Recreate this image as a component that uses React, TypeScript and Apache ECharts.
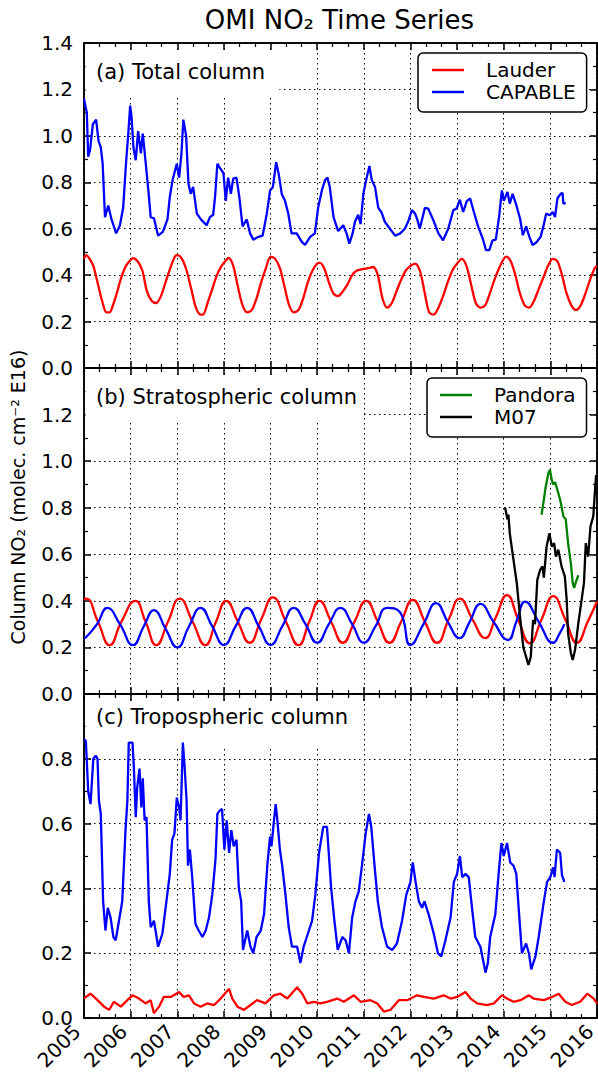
import React, { useEffect, useRef } from "react";
import * as echarts from "echarts";

type Pt = [number, number];

const X_MIN = 2005;
const X_MAX = 2016;
const YEAR_TICKS = ["2005", "2006", "2007", "2008", "2009", "2010", "2011", "2012", "2013", "2014", "2015", "2016"];
const PANEL_LABELS = ["(a) Total column", "(b) Stratospheric column", "(c) Tropospheric column"];
const Y_MAX = [1.4, 1.4, 1.0];
const TITLE = "OMI NO\u2082 Time Series";
const Y_TITLE = "Column NO\u2082 (molec. cm\u207B\u00B2 E16)";

// (a) Total column
const LAUDER_TOTAL: Pt[] = [
  [2005.0, 0.47], [2005.05, 0.486], [2005.12, 0.47], [2005.2, 0.44], [2005.3, 0.36], [2005.4, 0.28], [2005.48, 0.24], [2005.55, 0.24],
  [2005.62, 0.27], [2005.7, 0.32], [2005.8, 0.39], [2005.9, 0.44], [2006.0, 0.465], [2006.05, 0.473], [2006.15, 0.46], [2006.25, 0.42],
  [2006.35, 0.33], [2006.45, 0.29], [2006.55, 0.28], [2006.65, 0.31], [2006.75, 0.37], [2006.85, 0.43], [2006.95, 0.48], [2007.0, 0.486],
  [2007.1, 0.47], [2007.2, 0.42], [2007.3, 0.34], [2007.4, 0.26], [2007.5, 0.23], [2007.55, 0.23], [2007.65, 0.28], [2007.75, 0.34],
  [2007.85, 0.40], [2007.95, 0.44], [2008.05, 0.465], [2008.1, 0.474], [2008.2, 0.44], [2008.3, 0.35], [2008.4, 0.27], [2008.5, 0.24],
  [2008.6, 0.25], [2008.7, 0.30], [2008.8, 0.37], [2008.9, 0.43], [2009.0, 0.48], [2009.1, 0.47], [2009.2, 0.43], [2009.3, 0.35],
  [2009.4, 0.27], [2009.5, 0.24], [2009.6, 0.25], [2009.7, 0.30], [2009.8, 0.37], [2009.9, 0.42], [2010.0, 0.45], [2010.06, 0.453],
  [2010.15, 0.43], [2010.25, 0.37], [2010.35, 0.32], [2010.45, 0.31], [2010.55, 0.33], [2010.65, 0.36], [2010.75, 0.40], [2010.85, 0.42],
  [2010.95, 0.425], [2011.1, 0.43], [2011.2, 0.435], [2011.3, 0.40], [2011.4, 0.30], [2011.5, 0.26], [2011.6, 0.28], [2011.7, 0.33],
  [2011.8, 0.38], [2011.9, 0.42], [2012.0, 0.44], [2012.1, 0.45], [2012.2, 0.42], [2012.3, 0.33], [2012.4, 0.24], [2012.5, 0.23],
  [2012.6, 0.26], [2012.7, 0.31], [2012.8, 0.37], [2012.9, 0.42], [2013.0, 0.45], [2013.1, 0.47], [2013.2, 0.44], [2013.3, 0.36],
  [2013.4, 0.28], [2013.5, 0.26], [2013.6, 0.27], [2013.7, 0.32], [2013.8, 0.38], [2013.9, 0.43], [2014.0, 0.47], [2014.05, 0.48],
  [2014.15, 0.46], [2014.25, 0.40], [2014.35, 0.32], [2014.45, 0.27], [2014.55, 0.26], [2014.65, 0.29], [2014.75, 0.34], [2014.85, 0.39],
  [2014.95, 0.44], [2015.05, 0.47], [2015.15, 0.46], [2015.25, 0.40], [2015.35, 0.32], [2015.45, 0.27], [2015.55, 0.25], [2015.65, 0.27],
  [2015.75, 0.32], [2015.85, 0.38], [2015.95, 0.43], [2016.0, 0.44],
];

const CAPABLE_TOTAL: Pt[] = [
  [2005.0, 1.16], [2005.02, 1.14], [2005.06, 1.10], [2005.09, 0.91], [2005.13, 0.94], [2005.19, 1.05], [2005.26, 1.07], [2005.31, 0.98],
  [2005.36, 0.95], [2005.4, 0.88], [2005.45, 0.65], [2005.52, 0.70], [2005.59, 0.64], [2005.69, 0.58], [2005.77, 0.615], [2005.84, 0.69],
  [2005.9, 0.88], [2005.95, 1.01], [2005.99, 1.13], [2006.02, 1.08], [2006.06, 0.95], [2006.11, 0.895], [2006.16, 1.02], [2006.22, 0.925],
  [2006.26, 1.01], [2006.31, 0.91], [2006.38, 0.765], [2006.43, 0.65], [2006.5, 0.645], [2006.59, 0.57], [2006.69, 0.586], [2006.79, 0.64],
  [2006.84, 0.737], [2006.9, 0.81], [2006.95, 0.85], [2006.99, 0.88], [2007.04, 0.82], [2007.09, 0.925], [2007.13, 1.07], [2007.19, 1.0],
  [2007.24, 0.794], [2007.29, 0.75], [2007.34, 0.78], [2007.42, 0.665], [2007.52, 0.637], [2007.63, 0.615], [2007.7, 0.65], [2007.77, 0.66],
  [2007.81, 0.737], [2007.86, 0.88], [2007.92, 0.86], [2007.99, 0.84], [2008.04, 0.72], [2008.09, 0.82], [2008.15, 0.75], [2008.2, 0.816],
  [2008.27, 0.82], [2008.33, 0.737], [2008.4, 0.61], [2008.49, 0.64], [2008.56, 0.58], [2008.63, 0.553], [2008.74, 0.565], [2008.83, 0.57],
  [2008.92, 0.665], [2008.99, 0.765], [2009.05, 0.78], [2009.12, 0.887], [2009.18, 0.83], [2009.24, 0.75], [2009.31, 0.72], [2009.38, 0.665],
  [2009.45, 0.58], [2009.56, 0.58], [2009.67, 0.543], [2009.74, 0.53], [2009.85, 0.565], [2009.95, 0.58], [2010.02, 0.69], [2010.1, 0.765],
  [2010.17, 0.81], [2010.22, 0.82], [2010.27, 0.78], [2010.35, 0.65], [2010.45, 0.59], [2010.56, 0.615], [2010.63, 0.58], [2010.69, 0.536],
  [2010.76, 0.58], [2010.81, 0.63], [2010.88, 0.66], [2010.93, 0.62], [2010.99, 0.75], [2011.05, 0.81], [2011.12, 0.87], [2011.17, 0.81],
  [2011.24, 0.78], [2011.31, 0.69], [2011.38, 0.67], [2011.45, 0.63], [2011.56, 0.60], [2011.67, 0.57], [2011.78, 0.58], [2011.88, 0.60],
  [2011.95, 0.63], [2012.03, 0.68], [2012.1, 0.665], [2012.15, 0.637], [2012.2, 0.60], [2012.31, 0.69], [2012.38, 0.687], [2012.49, 0.637],
  [2012.6, 0.58], [2012.7, 0.55], [2012.81, 0.60], [2012.92, 0.68], [2012.99, 0.687], [2013.06, 0.725], [2013.13, 0.672], [2013.21, 0.72],
  [2013.28, 0.73], [2013.36, 0.672], [2013.45, 0.61], [2013.55, 0.558], [2013.62, 0.508], [2013.69, 0.508], [2013.76, 0.55], [2013.83, 0.553],
  [2013.9, 0.65], [2013.96, 0.765], [2014.0, 0.72], [2014.08, 0.758], [2014.13, 0.708], [2014.19, 0.75], [2014.26, 0.708], [2014.35, 0.644],
  [2014.41, 0.572], [2014.48, 0.61], [2014.55, 0.565], [2014.62, 0.53], [2014.71, 0.543], [2014.79, 0.565], [2014.85, 0.61], [2014.91, 0.665],
  [2014.99, 0.658], [2015.05, 0.672], [2015.1, 0.65], [2015.15, 0.73], [2015.22, 0.75], [2015.26, 0.754], [2015.28, 0.708], [2015.33, 0.711],
];

// (b) Stratospheric column
const LAUDER_STRAT: Pt[] = [
  [2005.0, 0.405], [2005.05, 0.41], [2005.3, 0.31], [2005.55, 0.21], [2005.8, 0.31], [2006.1, 0.40], [2006.32, 0.31], [2006.55, 0.21],
  [2006.8, 0.31], [2007.05, 0.41], [2007.33, 0.31], [2007.6, 0.21], [2007.83, 0.31], [2008.05, 0.40], [2008.3, 0.31], [2008.55, 0.22],
  [2008.8, 0.32], [2009.05, 0.415], [2009.33, 0.31], [2009.6, 0.21], [2009.83, 0.31], [2010.05, 0.40], [2010.3, 0.31], [2010.55, 0.22],
  [2010.8, 0.31], [2011.05, 0.40], [2011.3, 0.31], [2011.55, 0.22], [2011.8, 0.31], [2012.05, 0.404], [2012.31, 0.31], [2012.57, 0.22],
  [2012.82, 0.32], [2013.06, 0.41], [2013.33, 0.32], [2013.6, 0.24], [2013.83, 0.33], [2014.07, 0.425], [2014.31, 0.32], [2014.56, 0.218],
  [2014.81, 0.32], [2015.06, 0.42], [2015.32, 0.32], [2015.57, 0.22], [2015.8, 0.31], [2016.0, 0.397],
];

const CAPABLE_STRAT: Pt[] = [
  [2005.0, 0.24], [2005.05, 0.245], [2005.28, 0.30], [2005.5, 0.37], [2005.77, 0.30], [2006.05, 0.21], [2006.28, 0.29], [2006.5, 0.36],
  [2006.75, 0.28], [2007.0, 0.20], [2007.25, 0.29], [2007.5, 0.37], [2007.75, 0.29], [2008.0, 0.21], [2008.25, 0.29], [2008.5, 0.37],
  [2008.75, 0.29], [2009.0, 0.21], [2009.25, 0.29], [2009.5, 0.37], [2009.75, 0.30], [2010.0, 0.22], [2010.25, 0.30], [2010.5, 0.37],
  [2010.75, 0.30], [2011.0, 0.22], [2011.25, 0.29], [2011.5, 0.37], [2011.78, 0.35], [2012.0, 0.21], [2012.28, 0.30], [2012.55, 0.39],
  [2012.8, 0.31], [2013.05, 0.24], [2013.27, 0.31], [2013.5, 0.387], [2013.78, 0.31], [2014.09, 0.232], [2014.27, 0.31], [2014.46, 0.397],
  [2014.75, 0.31], [2015.06, 0.22], [2015.2, 0.26], [2015.3, 0.30],
];

const PANDORA_STRAT: Pt[] = [
  [2014.81, 0.77], [2014.85, 0.82], [2014.9, 0.89], [2014.96, 0.95], [2014.99, 0.963], [2015.03, 0.92], [2015.06, 0.90], [2015.1, 0.91],
  [2015.15, 0.877], [2015.21, 0.834], [2015.28, 0.763], [2015.33, 0.75], [2015.38, 0.648], [2015.44, 0.56], [2015.48, 0.476], [2015.51, 0.455],
  [2015.54, 0.476], [2015.6, 0.51],
];

const M07_STRAT: Pt[] = [
  [2014.03, 0.80], [2014.08, 0.75], [2014.1, 0.77], [2014.13, 0.69], [2014.2, 0.59], [2014.28, 0.476], [2014.35, 0.33], [2014.42, 0.20],
  [2014.53, 0.125], [2014.58, 0.16], [2014.63, 0.318], [2014.67, 0.30], [2014.72, 0.49], [2014.78, 0.533], [2014.83, 0.548], [2014.86, 0.50],
  [2014.92, 0.634], [2014.98, 0.69], [2015.03, 0.633], [2015.08, 0.648], [2015.12, 0.59], [2015.17, 0.62], [2015.24, 0.548], [2015.31, 0.505],
  [2015.35, 0.404], [2015.38, 0.26], [2015.44, 0.175], [2015.48, 0.146], [2015.53, 0.19], [2015.6, 0.304], [2015.67, 0.404], [2015.72, 0.476],
  [2015.76, 0.648], [2015.81, 0.59], [2015.86, 0.72], [2015.92, 0.763], [2015.98, 0.94],
];

// (c) Tropospheric column
const LAUDER_TROP: Pt[] = [
  [2005.0, 0.06], [2005.04, 0.065], [2005.14, 0.075], [2005.29, 0.055], [2005.43, 0.035], [2005.54, 0.025], [2005.64, 0.05], [2005.79, 0.035],
  [2005.93, 0.055], [2006.04, 0.07], [2006.18, 0.06], [2006.32, 0.045], [2006.43, 0.055], [2006.5, 0.015], [2006.61, 0.035], [2006.71, 0.065],
  [2006.86, 0.065], [2007.04, 0.08], [2007.14, 0.065], [2007.25, 0.07], [2007.36, 0.045], [2007.5, 0.035], [2007.64, 0.045], [2007.79, 0.04],
  [2007.93, 0.06], [2008.11, 0.09], [2008.18, 0.06], [2008.29, 0.035], [2008.43, 0.025], [2008.57, 0.04], [2008.71, 0.055], [2008.89, 0.045],
  [2009.07, 0.07], [2009.21, 0.075], [2009.36, 0.06], [2009.57, 0.095], [2009.68, 0.075], [2009.79, 0.045], [2009.93, 0.05], [2010.07, 0.045],
  [2010.21, 0.05], [2010.43, 0.06], [2010.57, 0.05], [2010.79, 0.07], [2010.93, 0.05], [2011.14, 0.055], [2011.29, 0.045], [2011.43, 0.02],
  [2011.57, 0.025], [2011.75, 0.055], [2011.93, 0.055], [2012.14, 0.07], [2012.29, 0.065], [2012.5, 0.06], [2012.71, 0.07], [2012.86, 0.06],
  [2013.0, 0.065], [2013.18, 0.08], [2013.29, 0.06], [2013.43, 0.045], [2013.64, 0.04], [2013.79, 0.045], [2013.96, 0.07], [2014.07, 0.06],
  [2014.21, 0.05], [2014.36, 0.055], [2014.54, 0.07], [2014.64, 0.06], [2014.86, 0.055], [2015.04, 0.065], [2015.18, 0.075], [2015.32, 0.05],
  [2015.46, 0.04], [2015.64, 0.05], [2015.79, 0.075], [2015.93, 0.06], [2016.0, 0.045],
];

const CAPABLE_TROP: Pt[] = [
  [2005.0, 0.86], [2005.04, 0.855], [2005.09, 0.70], [2005.14, 0.66], [2005.2, 0.80], [2005.25, 0.81], [2005.29, 0.80], [2005.32, 0.67],
  [2005.36, 0.63], [2005.41, 0.36], [2005.46, 0.27], [2005.51, 0.34], [2005.57, 0.31], [2005.63, 0.25], [2005.68, 0.24], [2005.75, 0.30],
  [2005.82, 0.36], [2005.89, 0.58], [2005.93, 0.67], [2005.96, 0.85], [2006.04, 0.85], [2006.07, 0.77], [2006.11, 0.62], [2006.14, 0.71],
  [2006.19, 0.77], [2006.23, 0.65], [2006.26, 0.74], [2006.3, 0.61], [2006.34, 0.62], [2006.39, 0.36], [2006.43, 0.28], [2006.5, 0.30],
  [2006.59, 0.22], [2006.68, 0.26], [2006.75, 0.34], [2006.84, 0.445], [2006.89, 0.55], [2006.94, 0.57], [2006.99, 0.68], [2007.04, 0.65],
  [2007.07, 0.61], [2007.12, 0.85], [2007.16, 0.77], [2007.2, 0.67], [2007.23, 0.47], [2007.27, 0.52], [2007.32, 0.435], [2007.39, 0.29],
  [2007.46, 0.27], [2007.54, 0.25], [2007.61, 0.27], [2007.68, 0.31], [2007.75, 0.38], [2007.82, 0.49], [2007.86, 0.63], [2007.91, 0.64],
  [2007.96, 0.645], [2008.01, 0.52], [2008.06, 0.61], [2008.11, 0.51], [2008.16, 0.58], [2008.21, 0.53], [2008.27, 0.55], [2008.32, 0.40],
  [2008.37, 0.36], [2008.41, 0.21], [2008.5, 0.27], [2008.57, 0.22], [2008.63, 0.20], [2008.7, 0.25], [2008.79, 0.27], [2008.86, 0.32],
  [2008.93, 0.47], [2008.99, 0.56], [2009.02, 0.53], [2009.06, 0.59], [2009.11, 0.66], [2009.14, 0.62], [2009.2, 0.52], [2009.25, 0.47],
  [2009.32, 0.38], [2009.39, 0.28], [2009.46, 0.22], [2009.57, 0.22], [2009.64, 0.17], [2009.71, 0.22], [2009.8, 0.26], [2009.89, 0.30],
  [2009.96, 0.38], [2010.04, 0.51], [2010.13, 0.59], [2010.21, 0.59], [2010.3, 0.40], [2010.37, 0.30], [2010.44, 0.21], [2010.54, 0.25],
  [2010.61, 0.24], [2010.68, 0.20], [2010.75, 0.31], [2010.82, 0.36], [2010.89, 0.39], [2010.96, 0.47], [2011.04, 0.57], [2011.11, 0.63],
  [2011.16, 0.59], [2011.23, 0.47], [2011.3, 0.36], [2011.39, 0.28], [2011.5, 0.22], [2011.61, 0.21], [2011.71, 0.23], [2011.82, 0.30],
  [2011.91, 0.38], [2012.0, 0.42], [2012.05, 0.48], [2012.11, 0.42], [2012.18, 0.36], [2012.25, 0.34], [2012.3, 0.36], [2012.39, 0.32],
  [2012.5, 0.26], [2012.59, 0.20], [2012.66, 0.19], [2012.75, 0.24], [2012.86, 0.31], [2012.93, 0.42], [2013.0, 0.445], [2013.06, 0.50],
  [2013.11, 0.435], [2013.18, 0.445], [2013.25, 0.435], [2013.32, 0.34], [2013.39, 0.25], [2013.5, 0.22], [2013.61, 0.14], [2013.66, 0.17],
  [2013.71, 0.25], [2013.82, 0.32], [2013.89, 0.445], [2013.95, 0.54], [2014.0, 0.50], [2014.07, 0.54], [2014.14, 0.48], [2014.21, 0.47],
  [2014.27, 0.445], [2014.32, 0.34], [2014.39, 0.20], [2014.48, 0.23], [2014.54, 0.20], [2014.59, 0.15], [2014.68, 0.19], [2014.75, 0.25],
  [2014.86, 0.36], [2014.93, 0.42], [2015.0, 0.435], [2015.06, 0.465], [2015.09, 0.435], [2015.14, 0.52], [2015.21, 0.51], [2015.25, 0.44],
  [2015.3, 0.42],
];

const FONT = "DejaVu Sans";

export default function App() {
  const ref = useRef<HTMLDivElement>(null);

  useEffect(() => {
    if (!ref.current) return;
    const chart = echarts.init(ref.current, undefined, { renderer: "svg" });

    const L = 84;
    const W = 513;
    const tops = [43, 368, 694];
    const heights = [325, 326, 324];

    const axisLine = { show: true, onZero: false, lineStyle: { color: "#000", width: 1.5 } };
    const tick = { show: true, inside: true, length: 7, lineStyle: { color: "#000", width: 1.5 } };
    const minor = (n: number) => ({ show: true, splitNumber: n, length: 4, lineStyle: { color: "#000", width: 1.2 } });
    const dotted = { show: true, lineStyle: { color: "#000", width: 1, type: [1.5, 3.5] as any } };

    const xAxis: any[] = [];
    const yAxis: any[] = [];
    for (let i = 0; i < 3; i++) {
      const baseX = {
        gridIndex: i, type: "value", min: X_MIN, max: X_MAX, interval: 1,
        axisLine, axisTick: tick, minorTick: minor(3),
      };
      xAxis.push({
        ...baseX, position: "bottom", splitLine: dotted,
        axisLabel: {
          show: i === 2, rotate: 45, fontSize: 20, color: "#000", fontFamily: FONT, margin: 17,
          align: "right", verticalAlign: "bottom", hideOverlap: false,
          formatter: (v: number) => YEAR_TICKS[Math.round(v - X_MIN)] ?? "",
        },
      });
      xAxis.push({ ...baseX, position: "top", splitLine: { show: false }, axisLabel: { show: false } });
      const baseY = {
        gridIndex: i, type: "value", min: 0, max: Y_MAX[i], interval: 0.2,
        axisLine, axisTick: tick, minorTick: minor(2),
      };
      yAxis.push({
        ...baseY, position: "left", splitLine: dotted,
        axisLabel: {
          show: true, fontSize: 20, color: "#000", fontFamily: FONT, margin: 11,
          showMaxLabel: i === 0, formatter: (v: number) => v.toFixed(1),
        },
      });
      yAxis.push({ ...baseY, position: "right", splitLine: { show: false }, axisLabel: { show: false } });
    }

    const line = (name: string, data: Pt[], panel: number, color: string, smooth: number | boolean = false) => ({
      name, type: "line", data, xAxisIndex: panel * 2, yAxisIndex: panel * 2,
      showSymbol: false, symbol: "none", smooth, color,
      lineStyle: { color, width: 2.3 }, emphasis: { disabled: true },
    });

    const series = [
      line("Lauder", LAUDER_TOTAL, 0, "#ff0000", 0.3),
      line("CAPABLE", CAPABLE_TOTAL, 0, "#0000ff"),
      line("Lauder", LAUDER_STRAT, 1, "#ff0000", 0.5),
      line("CAPABLE", CAPABLE_STRAT, 1, "#0000ff", 0.5),
      line("Pandora", PANDORA_STRAT, 1, "#008000"),
      line("M07", M07_STRAT, 1, "#000000"),
      line("Lauder", LAUDER_TROP, 2, "#ff0000"),
      line("CAPABLE", CAPABLE_TROP, 2, "#0000ff"),
    ];

    const legendBase = {
      orient: "vertical", itemWidth: 32, itemHeight: 2.5, itemGap: 0, icon: "rect",
      backgroundColor: "#fff", borderColor: "#000", borderWidth: 1.5, borderRadius: 5, selectedMode: false,
      formatter: (name: string) => `{t|${name}}`,
      textStyle: {
        fontSize: 20, color: "#000", fontFamily: FONT, lineHeight: 22,
        rich: { t: { fontSize: 20, fontFamily: FONT, color: "#000", lineHeight: 22, padding: [0, 0, 0, 17] } },
      },
    };

    const labelBoxes = [
      { x: 85.5, y: 51, w: 194, h: 45 },
      { x: 85.5, y: 376, w: 276, h: 45 },
      { x: 85.5, y: 702, w: 271, h: 44 },
    ];
    const labelPos = [
      { x: 96, y: 72 },
      { x: 96, y: 397 },
      { x: 96, y: 717 },
    ];

    const graphic: any[] = [];
    labelBoxes.forEach((b) => {
      graphic.push({ type: "rect", z: 1, shape: { x: b.x, y: b.y, width: b.w, height: b.h }, style: { fill: "#fff" } });
    });
    PANEL_LABELS.forEach((t, i) => {
      graphic.push({
        type: "text", z: 100, x: labelPos[i].x, y: labelPos[i].y,
        style: { text: t, fontSize: 21, fontFamily: FONT, fill: "#000", textAlign: "left", textVerticalAlign: "middle" },
      });
    });
    graphic.push({
      type: "text", z: 100, x: L + W / 2 - 1, y: 20,
      style: { text: TITLE, fontSize: 26, fontFamily: FONT, fill: "#000", textAlign: "center", textVerticalAlign: "middle" },
    });
    graphic.push({
      type: "text", z: 100, x: 18, y: 497, rotation: Math.PI / 2,
      style: { text: Y_TITLE, fontSize: 19, fontFamily: FONT, fill: "#000", textAlign: "center", textVerticalAlign: "middle" },
    });

    chart.setOption({
      animation: false,
      backgroundColor: "#fff",
      textStyle: { fontFamily: FONT },
      grid: tops.map((t, i) => ({
        left: L, top: t, width: W, height: heights[i], containLabel: false, outerBoundsMode: "none",
        show: true, borderColor: "#000", borderWidth: 1.5, backgroundColor: "transparent",
      })),
      xAxis,
      yAxis,
      legend: [
        { ...legendBase, data: ["Lauder", "CAPABLE"], left: 418, top: 53, padding: [6, 11, 9, 14] },
        { ...legendBase, data: ["Pandora", "M07"], left: 427, top: 378, padding: [6, 11, 9, 13] },
      ],
      series,
      graphic,
    });

    return () => chart.dispose();
  }, []);

  return <div ref={ref} style={{ position: "absolute", left: 0, top: 0, width: 598, height: 1077 }} />;
}
